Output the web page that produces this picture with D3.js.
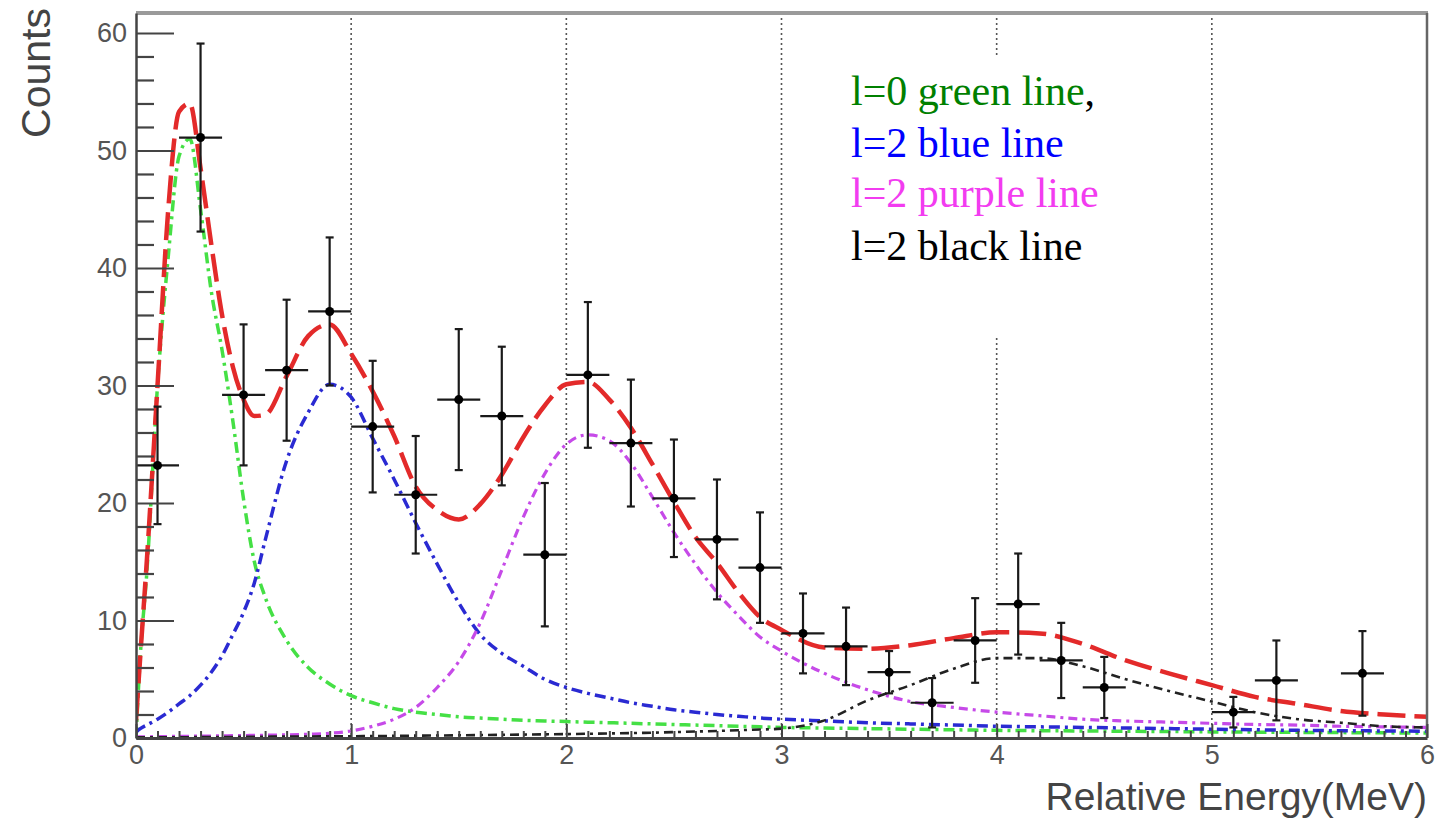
<!DOCTYPE html>
<html>
<head>
<meta charset="utf-8">
<script src="https://cdn.jsdelivr.net/npm/d3@7"></script>
<style>
  html, body { margin: 0; padding: 0; background: #fff; }
  svg { display: block; }
</style>
</head>
<body>
<svg id="chart" width="1447" height="822"></svg>
<script>
// ---------------- data ----------------
const energy   = [0.1, 0.3, 0.5, 0.7, 0.9, 1.1, 1.3, 1.5, 1.7, 1.9, 2.1, 2.3, 2.5, 2.7, 2.9, 3.1, 3.3, 3.5, 3.7, 3.9, 4.1, 4.3, 4.5, 5.1, 5.3, 5.7];
const counts   = [23.2, 51.1, 29.2, 31.3, 36.3, 26.5, 20.7, 28.8, 27.4, 15.6, 30.9, 25.1, 20.4, 16.9, 14.5, 8.9, 7.8, 5.6, 3.0, 8.3, 11.4, 6.6, 4.3, 2.2, 4.9, 5.5];
const countErr = [5.0, 8.0, 6.0, 6.0, 6.3, 5.6, 5.0, 6.0, 5.9, 6.1, 6.2, 5.4, 5.0, 5.1, 4.7, 3.4, 3.3, 1.8, 2.1, 3.6, 4.3, 3.2, 2.6, 1.3, 3.4, 3.6];
const binHalfWidth = 0.1;

const fitEnergy = [0, 0.02, 0.05, 0.1, 0.15, 0.2, 0.25, 0.3, 0.35, 0.4, 0.45, 0.5, 0.55, 0.6, 0.7, 0.8, 0.9, 1.0,
                   1.1, 1.2, 1.3, 1.4, 1.5, 1.6, 1.7, 1.8, 1.9, 2.0, 2.1, 2.2, 2.3, 2.4, 2.5, 2.6, 2.7, 2.8, 2.9, 3.0,
                   3.2, 3.4, 3.6, 3.8, 4.0, 4.2, 4.4, 4.6, 4.8, 5.0, 5.2, 5.4, 5.6, 5.8, 6.0];
const totalFit  = [1.5, 7, 15, 30, 45, 53.3, 54, 48.5, 42, 36, 31.6, 28.8, 27.4, 27.5, 30.8, 34.2, 35.2, 32.7,
                   29.5, 25.7, 21.4, 19.4, 18.6, 19.9, 22.4, 25.6, 28.3, 30.1, 30.3, 28.8, 26.4, 23.3, 20.1, 17.1, 14.9, 12.4, 10.3, 9.2,
                   7.7, 7.6, 7.9, 8.5, 9.0, 8.9, 8.0, 6.6, 5.5, 4.5, 3.5, 2.9, 2.3, 2.0, 1.8];
const l0Green   = [0, 7, 14, 30, 41, 49.5, 51, 45, 38, 33, 27, 20.3, 15, 12, 8.3, 6.0, 4.6, 3.6,
                   3.0, 2.5, 2.2, 2.0, 1.8, 1.7, 1.6, 1.5, 1.45, 1.4, 1.35, 1.3, 1.25, 1.2, 1.15, 1.1, 1.05, 1.0, 0.95, 0.9,
                   0.85, 0.8, 0.75, 0.7, 0.65, 0.62, 0.6, 0.57, 0.55, 0.52, 0.5, 0.48, 0.46, 0.44, 0.42];
const l2Blue    = [0.5, 0.8, 1.1, 1.6, 2.2, 2.9, 3.6, 4.5, 5.6, 7.0, 8.8, 10.7, 13.2, 16.8, 23.6, 27.7, 30.1, 29.0,
                   25.5, 22.0, 18.3, 14.8, 11.5, 8.8, 7.2, 6.1, 5.0, 4.3, 3.8, 3.4, 3.0, 2.7, 2.4, 2.2, 2.0, 1.85, 1.7, 1.6,
                   1.45, 1.3, 1.2, 1.1, 1.0, 0.95, 0.9, 0.85, 0.8, 0.75, 0.7, 0.65, 0.62, 0.6, 0.58];
const l2Purple  = [0.1, 0.1, 0.1, 0.12, 0.13, 0.14, 0.15, 0.16, 0.17, 0.18, 0.2, 0.21, 0.22, 0.24, 0.27, 0.32, 0.4, 0.6,
                   1.0, 1.6, 2.6, 4.3, 6.5, 9.8, 14.3, 18.8, 22.5, 25.0, 25.8, 25.3, 23.4, 20.5, 17.5, 14.8, 12.4, 10.4, 8.6, 7.4,
                   5.5, 4.1, 3.1, 2.6, 2.2, 1.9, 1.6, 1.45, 1.35, 1.25, 1.15, 1.1, 1.0, 0.95, 0.9];
const l2Black   = [0.05, 0.05, 0.05, 0.06, 0.06, 0.07, 0.07, 0.08, 0.08, 0.09, 0.09, 0.1, 0.1, 0.11, 0.12, 0.13, 0.14, 0.15,
                   0.17, 0.18, 0.2, 0.21, 0.23, 0.25, 0.27, 0.29, 0.31, 0.33, 0.36, 0.39, 0.42, 0.45, 0.5, 0.55, 0.6, 0.66, 0.72, 0.8,
                   1.5, 3.2, 4.5, 5.9, 6.8, 6.8, 6.1, 5.0, 4.0, 3.1, 2.2, 1.6, 1.3, 1.0, 0.9];

const xTicks = [0, 1, 2, 3, 4, 5, 6];
const yTicks = [0, 10, 20, 30, 40, 50, 60];
const gridX  = [1, 2, 3, 4, 5];
const legendLabels = ["l=0 green line", "l=2 blue line", "l=2 purple line", "l=2 black line"];
const legendColors = ["#008000", "#0000ff", "#f23cf0", "#000000"];

// ---------------- layout ----------------
const svg = d3.select("#chart");
const X0 = 136, X1 = 1427, Y0 = 738, Y1 = 13;
const x = d3.scaleLinear().domain([0, 6]).range([X0, X1]);
const y = d3.scaleLinear().domain([0, 61.7]).range([Y0, Y1]);

svg.append("defs").append("clipPath").attr("id", "plotclip")
  .append("rect").attr("x", X0).attr("y", Y1).attr("width", X1 - X0).attr("height", Y0 - Y1);

// vertical dotted grid lines
svg.append("g").selectAll("line").data(gridX).join("line")
  .attr("x1", d => x(d)).attr("x2", d => x(d))
  .attr("y1", Y1).attr("y2", Y0)
  .attr("stroke", "#555").attr("stroke-width", 1.6).attr("stroke-dasharray", "2,3");

// legend white box (covers the grid line, as in the original)
svg.append("rect").attr("x", 845).attr("y", 55).attr("width", 275).attr("height", 280).attr("fill", "#fff");

const legend = svg.append("g").attr("font-family", "'Liberation Serif', 'Times New Roman', serif").attr("font-size", 42);
legendLabels.forEach((lab, i) => {
  const t = legend.append("text").attr("x", 851).attr("y", [105, 157, 207, 260][i]);
  t.append("tspan").attr("fill", legendColors[i]).text(lab);
  if (i === 0) t.append("tspan").attr("fill", "#000").text(",");
});

// ---------------- fit curves ----------------
const curves = [
  { vals: l0Green,  color: "#45e045", width: 3.5, dash: "11,5,3,5" },
  { vals: l2Blue,   color: "#2a2ad2", width: 3.5, dash: "11,5,3,5" },
  { vals: l2Purple, color: "#c64ae8", width: 3.2, dash: "9,5,3,5" },
  { vals: l2Black,  color: "#222222", width: 2.6, dash: "9,5,3,5" },
  { vals: totalFit, color: "#e32a2a", width: 4.5, dash: "28,9" }
];
const line = d3.line().x(d => x(d[0])).y(d => y(d[1])).curve(d3.curveMonotoneX);
const cg = svg.append("g").attr("clip-path", "url(#plotclip)");
curves.forEach(c => {
  cg.append("path")
    .attr("d", line(fitEnergy.map((e, i) => [e, c.vals[i]])))
    .attr("fill", "none").attr("stroke", c.color)
    .attr("stroke-width", c.width).attr("stroke-dasharray", c.dash);
});

// ---------------- data points ----------------
const pts = energy.map((e, i) => ({ e, c: counts[i], s: countErr[i] }));
const pg = svg.append("g").attr("stroke", "#1a1a1a").attr("stroke-width", 2.2);
pg.selectAll(".hbar").data(pts).join("line")
  .attr("x1", d => x(d.e - binHalfWidth)).attr("x2", d => x(d.e + binHalfWidth))
  .attr("y1", d => y(d.c)).attr("y2", d => y(d.c));
pg.selectAll(".vbar").data(pts).join("line")
  .attr("x1", d => x(d.e)).attr("x2", d => x(d.e))
  .attr("y1", d => y(d.c + d.s)).attr("y2", d => y(Math.max(0, d.c - d.s)));
pg.selectAll(".capt").data(pts).join("line")
  .attr("x1", d => x(d.e) - 4).attr("x2", d => x(d.e) + 4)
  .attr("y1", d => y(d.c + d.s)).attr("y2", d => y(d.c + d.s));
pg.selectAll(".capb").data(pts.filter(d => d.c - d.s > 0)).join("line")
  .attr("x1", d => x(d.e) - 4).attr("x2", d => x(d.e) + 4)
  .attr("y1", d => y(d.c - d.s)).attr("y2", d => y(d.c - d.s));
svg.append("g").selectAll("circle").data(pts).join("circle")
  .attr("cx", d => x(d.e)).attr("cy", d => y(d.c)).attr("r", 4.5).attr("fill", "#000");

// ---------------- frame & axes ----------------
svg.append("line").attr("x1", X0).attr("x2", X1 + 1).attr("y1", Y1).attr("y2", Y1)
  .attr("stroke", "#9a9a9a").attr("stroke-width", 4);
svg.append("line").attr("x1", X1).attr("x2", X1).attr("y1", Y1).attr("y2", Y0)
  .attr("stroke", "#666").attr("stroke-width", 2.5);

const tickFont = "'Liberation Sans', Arial, Helvetica, sans-serif";

// y axis (ticks pointing into the plot)
const yAxis = svg.append("g").attr("transform", `translate(${X0},0)`)
  .call(d3.axisLeft(y).tickValues(yTicks).tickSizeInner(-38).tickSizeOuter(0).tickPadding(9).tickFormat(d3.format("d")));
yAxis.selectAll(".tick line").attr("stroke", "#444").attr("stroke-width", 2.2);
yAxis.select(".domain").attr("stroke", "#444").attr("stroke-width", 2.5);
yAxis.selectAll("text").attr("font-family", tickFont).attr("font-size", 27).attr("fill", "#555");

const yMinor = d3.range(0, 62, 2).filter(v => v % 10 !== 0);
svg.append("g").attr("transform", `translate(${X0},0)`)
  .call(d3.axisLeft(y).tickValues(yMinor).tickSizeInner(-18).tickSizeOuter(0).tickFormat(""))
  .call(g => g.select(".domain").remove())
  .selectAll(".tick line").attr("stroke", "#444").attr("stroke-width", 2.2);

// x axis
const xAxis = svg.append("g").attr("transform", `translate(0,${Y0})`)
  .call(d3.axisBottom(x).tickValues(xTicks).tickSizeInner(-14).tickSizeOuter(0).tickPadding(7).tickFormat(d3.format("d")));
xAxis.selectAll(".tick line").attr("stroke", "#444").attr("stroke-width", 2);
xAxis.select(".domain").attr("stroke", "#444").attr("stroke-width", 3);
xAxis.selectAll("text").attr("font-family", tickFont).attr("font-size", 27).attr("fill", "#555");

const xMinor = d3.range(1, 60).filter(v => v % 10 !== 0).map(v => v / 10);
svg.append("g").attr("transform", `translate(0,${Y0})`)
  .call(d3.axisBottom(x).tickValues(xMinor).tickSizeInner(-7).tickSizeOuter(0).tickFormat(""))
  .call(g => g.select(".domain").remove())
  .selectAll(".tick line").attr("stroke", "#444").attr("stroke-width", 2);

// axis titles
svg.append("text")
  .attr("transform", "translate(50,73) rotate(-90)")
  .attr("text-anchor", "middle")
  .attr("font-family", tickFont).attr("font-size", 41).attr("fill", "#444")
  .text("Counts");
svg.append("text")
  .attr("x", X1).attr("y", 810)
  .attr("text-anchor", "end")
  .attr("font-family", tickFont).attr("font-size", 39).attr("fill", "#444")
  .text("Relative Energy(MeV)");
</script>
</body>
</html>
